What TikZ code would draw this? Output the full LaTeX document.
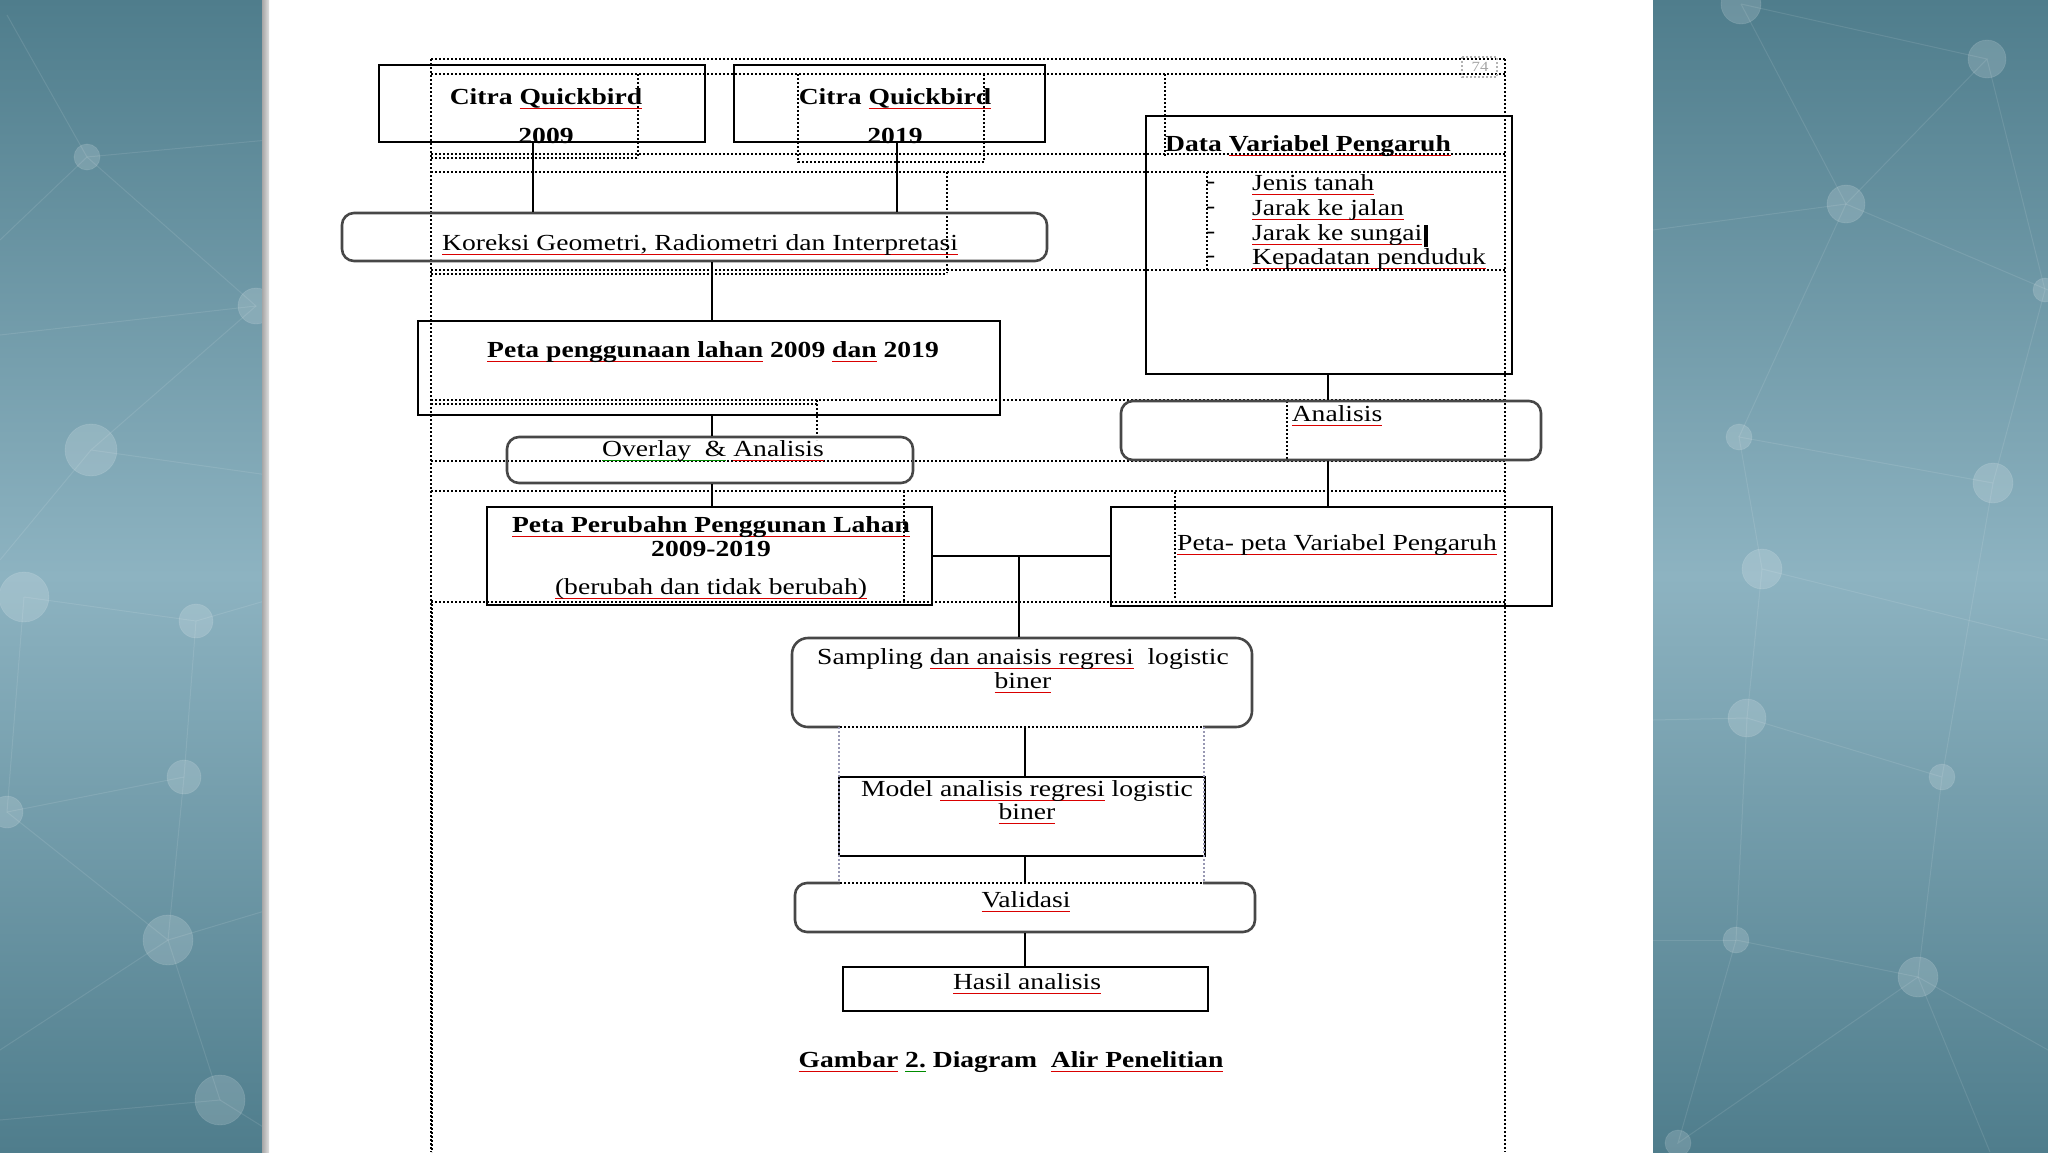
\documentclass[tikz,border=0pt]{standalone}
\usepackage{fontspec}
\setmainfont{Liberation Serif}[FakeStretch=1.2]
\newsavebox\subox
\newcommand\su[1]{\sbox\subox{#1}\rlap{\textcolor{red!85!black}{\rule[-0.22em]{\wd\subox}{1.3pt}}}\usebox\subox}
\newcommand\sgr[1]{\sbox\subox{#1}\rlap{\textcolor{green!55!black}{\rule[-0.22em]{\wd\subox}{1.3pt}}}\usebox\subox}
\definecolor{bgdark}{HTML}{4F7D8C}
\definecolor{bglight}{HTML}{8DB3C1}
\begin{document}
\begin{tikzpicture}[x=1pt,y=-1pt,
  bx/.style={draw=black, line width=2.2pt, inner sep=0pt},
  rbx/.style={draw=black!72, line width=2.6pt, rounded corners=12pt, inner sep=0pt},
  conn/.style={line width=2.2pt},
  dotl/.style={line width=2pt, dash pattern=on 2pt off 2pt},
  txt/.style={inner sep=0pt, font=\fontsize{23}{24.7}\selectfont},
  btxt/.style={inner sep=0pt, font=\fontsize{23}{24.7}\selectfont\bfseries},
  netl/.style={draw=white, draw opacity=0.1, line width=1pt},
  netc/.style={fill=white, fill opacity=0.17, draw=white, draw opacity=0.1, line width=0.8pt}]
\useasboundingbox (0,0) rectangle (2048,1152);
% background
\shade[top color=bgdark, bottom color=bgdark, middle color=bglight] (0,0) rectangle (268,1152);
\shade[top color=bgdark, bottom color=bgdark, middle color=bglight] (1653,0) rectangle (2048,1152);
% network left
\draw[netl] (7,15) -- (87,157) -- (268,140);
\draw[netl] (0,240) -- (87,157) -- (256,306) -- (0,335);
\draw[netl] (256,306) -- (91,450) -- (268,475);
\draw[netl] (0,560) -- (91,450);
\draw[netl] (24,597) -- (196,621) -- (184,777) -- (7,812) -- (24,597);
\draw[netl] (184,777) -- (168,940) -- (7,812);
\draw[netl] (168,940) -- (268,910);
\draw[netl] (168,940) -- (220,1100) -- (0,1120);
\draw[netl] (168,940) -- (0,1050);
\draw[netl] (220,1100) -- (268,1130);
\draw[netl] (196,621) -- (268,600);
\foreach \p/\r in {{87,157}/13,{256,306}/18,{91,450}/26,{24,597}/25,{196,621}/17,{184,777}/17,{7,812}/16,{168,940}/25,{220,1100}/25}
  \path[netc] (\p) circle (\r);
% network right
\draw[netl] (1741,4) -- (1846,204) -- (1987,59) -- (1741,4);
\draw[netl] (1653,230) -- (1846,204) -- (2048,290);
\draw[netl] (1846,204) -- (1739,437);
\draw[netl] (1987,59) -- (2045,290) -- (1993,483) -- (1739,437) -- (1762,569) -- (1747,718);
\draw[netl] (1993,483) -- (1942,777) -- (1747,718) -- (1736,940) -- (1918,977) -- (1942,777);
\draw[netl] (1736,940) -- (1678,1143) -- (1918,977) -- (2048,1050);
\draw[netl] (1918,977) -- (1990,1152);
\draw[netl] (1653,720) -- (1747,718);
\draw[netl] (1653,940) -- (1736,940);
\draw[netl] (1762,569) -- (2048,640);
\foreach \p/\r in {{1741,4}/20,{1987,59}/19,{1846,204}/19,{2045,290}/12,{1739,437}/13,{1993,483}/20,{1762,569}/20,{1747,718}/19,{1942,777}/13,{1736,940}/13,{1918,977}/20,{1678,1143}/13}
  \path[netc] (\p) circle (\r);
% page
\fill[white] (268,0) rectangle (1653,1152);
\shade[left color=gray!70, right color=gray!25] (262,0) rectangle (269,1152);
% dotted text-frame lines
\draw[dotl] (431,59) -- (1505,59);
\draw[dotl] (431,74) -- (1505,74);
\draw[dotl] (431,59) -- (431,1152);
\draw[dotl] (1505,59) -- (1505,1152);
\draw[dotl] (431,154) -- (1505,154);
\draw[dotl] (431,158) -- (638,158);
\draw[dotl] (638,74) -- (638,158);
\draw[dotl] (798,74) -- (798,162) -- (984,162) -- (984,74);
\draw[dotl] (431,172) -- (1505,172);
\draw[dotl] (947,172) -- (947,273);
\draw[dotl] (431,270) -- (1505,270);
\draw[dotl] (431,274) -- (947,274);
\draw[dotl] (1165,74) -- (1165,156);
\draw[dotl] (1207,172) -- (1207,270);
\draw[dotl] (431,400) -- (1505,400);
\draw[dotl] (431,404) -- (817,404);
\draw[dotl] (817,400) -- (817,440);
\draw[dotl] (1287,401) -- (1287,460);
\draw[dotl] (431,461) -- (1505,461);
\draw[dotl] (431,491) -- (1505,491);
\draw[dotl] (904,491) -- (904,602);
\draw[dotl] (1175,492) -- (1175,600);
\draw[dotl] (431,602) -- (1505,602);
\draw[dotl] (432,600) -- (432,1152);
% page number
\draw[dotl, draw=gray!60] (1462,57) rectangle (1497,77);
\node[inner sep=0pt, text=gray!70, font=\fontsize{14}{14}\selectfont] (pg) at (1480,67) {74};
% boxes
\node[bx, minimum width=326, minimum height=77] (c09) at (542,103.5) {};
\node[bx, minimum width=311, minimum height=77] (c19) at (889.5,103.5) {};
\node[rbx, minimum width=705, minimum height=48] (kor) at (694.5,237) {};
\node[bx, minimum width=582, minimum height=94] (ppl) at (709,368) {};
\node[rbx, minimum width=406, minimum height=46] (ovl) at (710,460) {};
\node[bx, minimum width=445, minimum height=98] (ppr) at (709.5,556) {};
\node[bx, minimum width=366, minimum height=258] (dvp) at (1329,245) {};
\node[rbx, minimum width=420, minimum height=59] (ana) at (1331,430.5) {};
\node[bx, minimum width=441, minimum height=99] (ppv) at (1331.5,556.5) {};
\node[rbx, rounded corners=16pt, minimum width=460, minimum height=89] (smp) at (1022,682.5) {};
\node[bx, minimum width=366, minimum height=79] (mdl) at (1022,816.5) {};
\node[rbx, minimum width=460, minimum height=49] (val) at (1025,907.5) {};
\node[bx, minimum width=365, minimum height=44] (hsl) at (1025.5,989) {};
% dotted overlaps on sampling / validasi
\draw[white, line width=3.5pt] (840,727) -- (1203,727);
\draw[dotl] (840,727) -- (1203,727);
\draw[white, line width=3.5pt] (840,883) -- (1203,883);
\draw[dotl] (840,883) -- (1203,883);
\draw[dotl, draw=blue!15!gray!70, line width=1.5pt] (839,727) -- (839,883);
\draw[dotl, draw=blue!15!gray!70, line width=1.5pt] (1204,727) -- (1204,883);
% connectors
\coordinate (xa) at (533,0);
\coordinate (xb) at (897,0);
\coordinate (xc) at (712,0);
\coordinate (xd) at (1328,0);
\coordinate (xe) at (1019,0);
\coordinate (xf) at (1025,0);
\draw[conn] (c09.south -| xa) -- (kor.north -| xa);
\draw[conn] (c19.south -| xb) -- (kor.north -| xb);
\draw[conn] (kor.south -| xc) -- (ppl.north -| xc);
\draw[conn] (ppl.south -| xc) -- (ovl.north -| xc);
\draw[conn] (ovl.south -| xc) -- (ppr.north -| xc);
\draw[conn] (dvp.south -| xd) -- (ana.north -| xd);
\draw[conn] (ana.south -| xd) -- (ppv.north -| xd);
\draw[conn] (ppr.east) -- (ppr.east -| ppv.west);
\coordinate (jn) at (ppr.east -| xe);
\draw[conn] (jn) -- (smp.north -| xe);
\draw[conn] (smp.south -| xf) -- (mdl.north -| xf);
\draw[conn] (mdl.south -| xf) -- (val.north -| xf);
\draw[conn] (val.south -| xf) -- (hsl.north -| xf);
% texts
\node[btxt, anchor=base] (t1) at (546,104) {Citra \su{Quickbird}};
\node[btxt, anchor=base] (t2) at (546,143) {2009};
\node[btxt, anchor=base] (t3) at (895,104) {Citra \su{Quickbird}};
\node[btxt, anchor=base] (t4) at (895,143) {2019};
\node[txt, anchor=base] (t5) at (700,250) {\su{Koreksi Geometri, Radiometri dan Interpretasi}};
\node[btxt, anchor=base] (t6) at (713,357) {\su{Peta penggunaan lahan} 2009 \su{dan} 2019};
\node[txt, anchor=base] (t7) at (713,456) {\sgr{Overlay\ \ \&} \su{Analisis}};
\node[btxt, anchor=base] (t8) at (711,532) {\su{Peta Perubahn Penggunan Lahan}};
\node[btxt, anchor=base] (t9) at (711,556) {2009-2019};
\node[txt, anchor=base] (t10) at (711,594) {\su{(berubah dan tidak berubah)}};
\node[btxt, anchor=base west] (t11) at (1165,151) {Data \su{Variabel Pengaruh}};
\node[txt, anchor=base west] (d1) at (1206,188) {-};
\node[txt, anchor=base west] (d2) at (1206,213) {-};
\node[txt, anchor=base west] (d3) at (1206,238) {-};
\node[txt, anchor=base west] (d4) at (1206,262) {-};
\node[txt, anchor=base west] (l1) at (1252,190) {\su{Jenis tanah}};
\node[txt, anchor=base west] (l2) at (1252,215) {\su{Jarak ke jalan}};
\node[txt, anchor=base west] (l3) at (1252,240) {\su{Jarak ke sungai}};
\node[txt, anchor=base west] (l4) at (1252,264) {\su{Kepadatan penduduk}};
\fill (l3.east |- 0,225) ++(1,0) rectangle ++(4,22);
\node[txt, anchor=base] (t12) at (1337,421) {\su{Analisis}};
\node[txt, anchor=base] (t13) at (1337,550) {\su{Peta- peta Variabel Pengaruh}};
\node[txt, anchor=base] (t14) at (1023,664) {Sampling \su{dan anaisis regresi}\ \ logistic};
\node[txt, anchor=base] (t15) at (1023,688) {\su{biner}};
\node[txt, anchor=base] (t16) at (1027,796) {Model \su{analisis regresi} logistic};
\node[txt, anchor=base] (t17) at (1027,819) {\su{biner}};
\node[txt, anchor=base] (t18) at (1026,907) {\su{Validasi}};
\node[txt, anchor=base] (t19) at (1027,989) {\su{Hasil analisis}};
\node[btxt, anchor=base] (cap) at (1011,1067) {\su{Gambar} \sgr{2.} Diagram\ \ \su{Alir Penelitian}};
\end{tikzpicture}
\end{document}
